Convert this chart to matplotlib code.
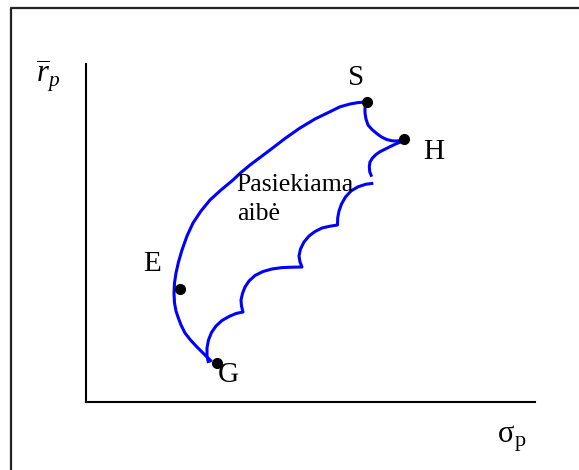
import numpy as np
import matplotlib
matplotlib.use("Agg")
import matplotlib.pyplot as plt

plt.rcParams['font.family'] = ['Liberation Serif', 'DejaVu Serif']
plt.rcParams['mathtext.fontset'] = 'custom'
plt.rcParams['mathtext.rm'] = 'Liberation Serif'
plt.rcParams['mathtext.it'] = 'Liberation Serif:italic'

# units: arbitrary sigma / return units, origin at the axes corner

# efficient frontier (outer curve) from S through E down to G
outer_x = [280.5, 272, 264, 254, 244, 229, 214, 199, 184, 174, 164, 155, 147, 135, 124,
           115, 107, 101, 96, 92.5, 90, 88.5, 88, 88.5, 90, 92, 95, 99, 104.5, 110.7,
           115.5, 120.7, 125.7]
outer_y = [300, 299.4, 298, 295.2, 290.3, 283, 274, 263.5, 252, 244.5, 237, 229.5, 222,
           212, 202, 191, 179, 166, 152, 140, 129, 119, 109, 99, 91, 85, 77, 69, 62,
           55.3, 50.5, 45.3, 40.3]

# S -> H
sh_x = [280.7, 279, 279, 280, 282, 286, 290.7, 295.5, 300.7, 306, 310.7, 315, 318]
sh_y = [299.7, 294, 289, 283, 277, 272.5, 268.5, 265, 262.5, 261.2, 261, 261.5, 262.5]

# H -> down (first arc)
h_x = [315.7, 310, 304, 299, 294, 290, 286.5, 284, 283.3, 283.8, 285.7]
h_y = [260.5, 258.2, 255.3, 252.8, 250.3, 247.5, 244, 240, 235.3, 230, 225.3]

# scalloped lower boundary down to G
low_x = [287.3, 280, 272, 265, 259.5, 255.5, 253, 251.7, 251.5,
         244, 236, 229, 223, 218, 214.5, 213, 214, 216,
         206, 196, 186, 177, 169, 163, 159, 156.5, 155, 155.5, 157,
         150, 143, 136, 130, 125.5, 122.5, 121, 121, 122.5]
low_y = [218.7, 217.8, 215.2, 211, 205, 198, 191, 184, 177,
         175.8, 174, 170.5, 166, 160, 153, 146, 140, 135,
         134.8, 134.4, 133, 130.5, 126.5, 121, 115, 108.5, 102, 96, 90,
         88.5, 85.5, 81.5, 76, 69.5, 62, 54, 46, 39]

# named points
pt_names = ['S', 'H', 'E', 'G']
pt_x = [280.7, 318, 94, 131]
pt_y = [299.7, 262.7, 113.5, 39]

fig = plt.figure(figsize=(5.79, 4.70), dpi=100)
ax = fig.add_axes([0, 0, 1, 1])
ax.set_xlim(-86, 493)
ax.set_ylim(-68, 402)
ax.axis('off')

# outer frame (only top/left visible)
ax.plot([-75, -75, 600], [-100, 393.7, 393.7], color='#222222', lw=1.6)

# axes
ax.plot([0, 449], [0, 0], color='black', lw=1.5)
ax.plot([0, 0], [0, 338], color='black', lw=1.5)

blue = '#0000ff'
for xs, ys in [(outer_x, outer_y), (sh_x, sh_y), (h_x, h_y), (low_x, low_y)]:
    ax.plot(xs, ys, color=blue, lw=2.2, solid_capstyle='butt', solid_joinstyle='round')

ax.plot(pt_x, pt_y, 'o', color='black', ms=7, zorder=5)

# labels
ax.text(270, 317, 'S', fontsize=21, ha='center', va='baseline')
ax.text(347.5, 243, 'H', fontsize=21, ha='center', va='baseline')
ax.text(66, 131, 'E', fontsize=21, ha='center', va='baseline')
ax.text(142, 20, 'G', fontsize=21, ha='center', va='baseline')

ax.text(150.7, 211.3, 'Pasiekiama', fontsize=18.5, ha='left', va='baseline')
ax.text(150.7, 182, 'aibė', fontsize=18.5, ha='left', va='baseline')

ax.text(-50, 320, r'$\overline{r}_p$', fontsize=22, ha='left', va='baseline')
ax.text(412, -40, 'σ', fontsize=22, ha='left', va='baseline')
ax.text(429, -44, 'p', fontsize=16, ha='left', va='baseline')

fig.savefig('out.png', dpi=100)
